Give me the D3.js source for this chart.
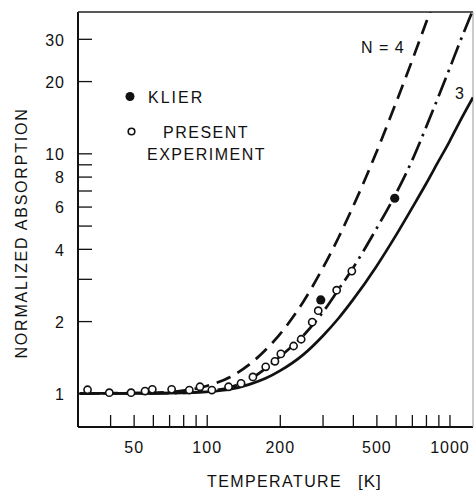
<html>
<head>
<script src="https://cdn.jsdelivr.net/npm/d3@7"></script>
<style>
    body { margin: 0; background: #fff; }
    text { font-family: "Liberation Sans", Arial, sans-serif; fill: #111; }
</style>
</head>
<body>
<script>

    // values: temperature [K] -> normalized absorption

    // solid curve (labelled 3)
    let solidT = [30,60,80,100,125,150,175,200,250,300,350,400,500,600,700,800,900,1000,1100,1250];
    let solidA = [1.0,1.0,1.004,1.014,1.04,1.09,1.155,1.24,1.45,1.73,2.06,2.45,3.38,4.53,5.9,7.45,9.25,11.2,13.5,17.1];

    // dashed curve (N = 4)
    let dashT = [30,60,80,100,125,150,175,200,250,300,350,400,500,600,700,800,850];
    let dashA = [1.0,1.005,1.026,1.073,1.17,1.32,1.52,1.76,2.41,3.31,4.48,5.98,10.1,16.1,24.2,34.9,41.2];

    // dash-dot curve
    let dotDashT = [30,60,80,100,125,150,175,200,250,300,350,400,500,600,700,800,900,1000,1100,1240];
    let dotDashA = [1.0,1.0,1.005,1.02,1.06,1.14,1.27,1.42,1.74,2.17,2.72,3.32,4.85,6.75,9.3,12.8,17.2,22.5,28.8,38.8];

    // present experiment (open circles)
    let expT = [32.3,39.7,48.8,55.7,59.7,71.7,84.8,93.8,105,123,138.5,155,175,191,202,228,245,272,288,343,396];
    let expA = [1.035,1.006,1.006,1.022,1.039,1.039,1.032,1.065,1.032,1.065,1.10,1.17,1.29,1.36,1.46,1.575,1.68,1.98,2.21,2.69,3.23];

    // Klier (filled dots)
    let klierT = [295,595];
    let klierA = [2.45,6.5];

    // ticks
    let xTicks = [40,50,60,70,80,90,100,200,300,400,500,600,700,800,900,1000];
    let xTickLabels = [50,100,200,500,1000];
    let yTicks = [1,2,3,4,5,6,7,8,9,10,20,30];
    let yTickLabels = [1,2,4,6,8,10,20,30];

    let svg = d3.select("body").append("svg")
        .attr("width", 474)
        .attr("height", 492);

    let mLeft = 78, mRight = 473, mTop = 12, mBottom = 427;

    let x = d3.scaleLog().domain([29.5,1250]).range([mLeft,mRight]);
    let y = d3.scaleLog().domain([0.724,38.8]).range([mBottom,mTop]);

    svg.append("clipPath").attr("id","plot")
        .append("rect")
        .attr("x",mLeft).attr("y",mTop)
        .attr("width",mRight-mLeft).attr("height",mBottom-mTop);

    //axes with inward ticks
    let xAxis = d3.axisBottom(x)
        .tickValues(xTicks)
        .tickSizeInner(-12)
        .tickSizeOuter(0)
        .tickPadding(15)
        .tickFormat(d => xTickLabels.includes(d) ? d : "");

    let yAxis = d3.axisLeft(y)
        .tickValues(yTicks)
        .tickSizeInner(-14)
        .tickSizeOuter(0)
        .tickPadding(13)
        .tickFormat(d => yTickLabels.includes(d) ? d : "");

    let gx = svg.append("g")
        .attr("transform","translate(0," + mBottom + ")")
        .call(xAxis);
    let gy = svg.append("g")
        .attr("transform","translate(" + mLeft + ",0)")
        .call(yAxis);

    [gx, gy].forEach(g => {
        g.select(".domain").remove();
        g.selectAll(".tick line").attr("stroke","#111").attr("stroke-width",1.3);
        g.selectAll(".tick text")
            .attr("fill","#111")
            .style("font-family","'Liberation Sans', Arial, sans-serif")
            .style("font-size","16px")
            .style("letter-spacing","1px");
    });
    gy.selectAll(".tick text").attr("dy","0.4em");

    //frame
    svg.append("line").attr("x1",mLeft).attr("y1",mTop).attr("x2",mLeft).attr("y2",mBottom)
        .attr("stroke","#111").attr("stroke-width",2);
    svg.append("line").attr("x1",mLeft).attr("y1",mBottom).attr("x2",mRight).attr("y2",mBottom)
        .attr("stroke","#111").attr("stroke-width",2);
    svg.append("line").attr("x1",mLeft).attr("y1",mTop).attr("x2",mRight).attr("y2",mTop)
        .attr("stroke","#222").attr("stroke-width",1.5);
    svg.append("line").attr("x1",mRight).attr("y1",mTop).attr("x2",mRight).attr("y2",mBottom)
        .attr("stroke","#999").attr("stroke-width",1);

    //curves
    let line = d3.line()
        .x(d => x(d[0]))
        .y(d => y(d[1]))
        .curve(d3.curveMonotoneX);

    let curves = [
        {t: solidT, a: solidA, dash: null},
        {t: dashT, a: dashA, dash: "15,8"},
        {t: dotDashT, a: dotDashA, dash: "20,6,2.5,6"}
    ];

    curves.forEach(c => {
        svg.append("path")
            .datum(c.t.map((t,i) => [t, c.a[i]]))
            .attr("clip-path","url(#plot)")
            .attr("d", line)
            .attr("fill","none")
            .attr("stroke","#111")
            .attr("stroke-width",2.7)
            .attr("stroke-dasharray", c.dash);
    });

    //experiment points
    svg.selectAll("circle.exp")
        .data(expT.map((t,i) => [t, expA[i]]))
        .enter().append("circle")
        .attr("class","exp")
        .attr("cx", d => x(d[0]))
        .attr("cy", d => y(d[1]))
        .attr("r", 3.6)
        .attr("fill","#fff")
        .attr("stroke","#111")
        .attr("stroke-width",1.6);

    svg.selectAll("circle.klier")
        .data(klierT.map((t,i) => [t, klierA[i]]))
        .enter().append("circle")
        .attr("class","klier")
        .attr("cx", d => x(d[0]))
        .attr("cy", d => y(d[1]))
        .attr("r", 4.6)
        .attr("fill","#111");

    //legend
    svg.append("circle").attr("cx",130).attr("cy",96.5).attr("r",4.5).attr("fill","#111");
    svg.append("text").attr("x",148).attr("y",103).style("font-size","16px")
        .style("letter-spacing","2px").text("KLIER");
    svg.append("circle").attr("cx",131.5).attr("cy",131.5).attr("r",3.3)
        .attr("fill","#fff").attr("stroke","#111").attr("stroke-width",1.6);
    svg.append("text").attr("x",163).attr("y",137.5).style("font-size","16px")
        .style("letter-spacing","1.5px").text("PRESENT");
    svg.append("text").attr("x",147).attr("y",160).style("font-size","16px")
        .style("letter-spacing","1.5px").text("EXPERIMENT");

    //curve labels
    svg.append("text").attr("x",361).attr("y",53).style("font-size","16px")
        .style("letter-spacing","1px").text("N = 4");
    svg.append("text").attr("x",455).attr("y",99).style("font-size","16px").text("3");

    //axis titles
    svg.append("text").attr("x",207).attr("y",487).style("font-size","16px")
        .style("letter-spacing","1.4px").text("TEMPERATURE");
    svg.append("text").attr("x",358).attr("y",487).style("font-size","17px")
        .style("letter-spacing","1px").text("[K]");
    svg.append("text")
        .attr("transform","translate(26.5,233) rotate(-90)")
        .attr("text-anchor","middle")
        .style("font-size","16px")
        .style("letter-spacing","1.8px")
        .text("NORMALIZED ABSORPTION");

</script>
</body>
</html>
